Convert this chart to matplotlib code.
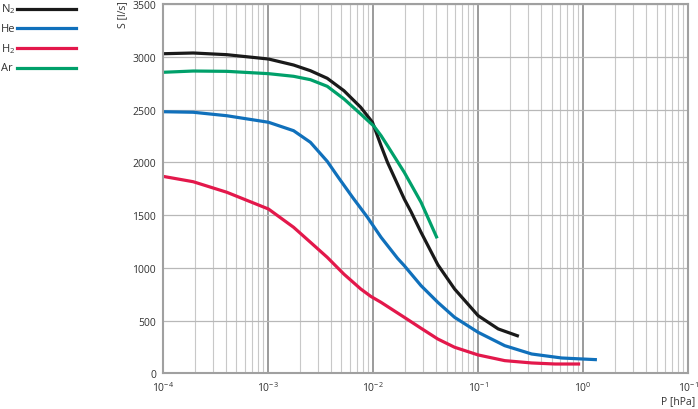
import numpy as np
import matplotlib.pyplot as plt
from matplotlib.ticker import FixedLocator, NullFormatter

plt.rcParams['font.family'] = ['Open Sans', 'DejaVu Sans']
plt.rcParams['mathtext.fontset'] = 'custom'
plt.rcParams['mathtext.rm'] = 'Open Sans'

# pressure [hPa] / pumping speed [l/s]
n2_p = [1e-4, 1.94e-4, 4.05e-4, 1.01e-3, 1.75e-3, 2.53e-3, 3.66e-3, 5.28e-3,
        7.62e-3, 9.86e-3, 0.0119, 0.0137, 0.0198, 0.0230, 0.0286, 0.0413,
        0.0596, 0.0998, 0.155, 0.244]
n2_s = [3031, 3038, 3022, 2981, 2924, 2870, 2798, 2680,
        2523, 2381, 2159, 2001, 1653, 1531, 1337, 1030,
        800, 547, 421, 351]

ar_p = [1e-4, 1.94e-4, 4.05e-4, 1.01e-3, 1.75e-3, 2.53e-3, 3.66e-3, 5.28e-3,
        7.62e-3, 0.0102, 0.0119, 0.0137, 0.0198, 0.0286, 0.0407]
ar_s = [2855, 2867, 2864, 2842, 2817, 2785, 2722, 2602,
        2459, 2343, 2254, 2159, 1906, 1622, 1280]

he_p = [1e-4, 1.94e-4, 4.05e-4, 1.01e-3, 1.75e-3, 2.53e-3, 3.66e-3, 4.73e-3,
        6.44e-3, 8.83e-3, 0.0119, 0.0171, 0.0198, 0.0286, 0.0413, 0.0596,
        0.0998, 0.179, 0.323, 0.625, 1.35]
he_s = [2481, 2476, 2443, 2381, 2301, 2191, 2010, 1850,
        1663, 1480, 1290, 1090, 1021, 831, 673, 531,
        389, 262, 183, 145, 129]

h2_p = [1e-4, 1.94e-4, 4.05e-4, 1.01e-3, 1.75e-3, 2.53e-3, 3.66e-3, 5.28e-3,
        7.62e-3, 9.49e-3, 0.0119, 0.0198, 0.0286, 0.0413, 0.0596, 0.0998,
        0.179, 0.323, 0.54, 0.935]
h2_s = [1868, 1817, 1717, 1558, 1385, 1243, 1100, 940,
        800, 730, 673, 531, 427, 325, 247, 174,
        120, 98, 88, 88]

series = [('N$_2$', n2_p, n2_s, '#1a1a1a'),
          ('He', he_p, he_s, '#1070bb'),
          ('H$_2$', h2_p, h2_s, '#e3184b'),
          ('Ar', ar_p, ar_s, '#00a06a')]

x_ticks = [1e-4, 1e-3, 1e-2, 1e-1, 1e0, 1e1]
x_labels = ['10$^{-4}$', '10$^{-3}$', '10$^{-2}$', '10$^{-1}$', '10$^{0}$', '10$^{-1}$']
y_ticks = [0, 500, 1000, 1500, 2000, 2500, 3000, 3500]

fig = plt.figure(figsize=(6.98, 4.10), dpi=100)
ax = fig.add_axes([0.2335, 0.0871, 0.7526, 0.9000])

ax.set_xscale('log')
ax.set_xlim(1e-4, 1e1)
ax.set_ylim(0, 3500)

# grid
minor = [m * 10.0 ** e for e in range(-4, 1) for m in range(2, 10)]
ax.xaxis.set_minor_locator(FixedLocator(minor))
ax.xaxis.set_minor_formatter(NullFormatter())
ax.set_xticks(x_ticks)
ax.set_xticklabels(x_labels)
ax.set_yticks(y_ticks)
ax.grid(True, which='minor', axis='x', color='#c8c8c8', lw=0.8)
ax.grid(True, which='major', axis='x', color='#8a8a8a', lw=1.2)
ax.grid(True, which='major', axis='y', color='#b8b8b8', lw=0.9)
ax.tick_params(which='both', length=0, labelsize=7.5, colors='#333333', pad=5)
for s in ax.spines.values():
    s.set_color('#a0a0a0')
    s.set_linewidth(1.5)
ax.set_axisbelow(True)

for name, p, s, c in series:
    ax.plot(p, s, color=c, lw=2.3, solid_capstyle='butt', solid_joinstyle='round')

# legend on the left, outside the plot
for i, (name, p, s, c) in enumerate(series):
    y = 1 - (9.5 + 19.8 * i) / 410
    fig.add_artist(plt.Line2D([17 / 698, 76 / 698], [y, y], color=c, lw=2.3,
                              transform=fig.transFigure))
    fig.text(1 / 698, y, name, fontsize=8, color='#333333', va='center', ha='left')

fig.text(123 / 698, 1 - 15 / 410, 'S [l/s]', rotation=90, fontsize=7.5,
         color='#333333', ha='center', va='center')
fig.text(678 / 698, 1 - 402 / 410, 'P [hPa]', fontsize=7.5,
         color='#333333', ha='center', va='center')

fig.savefig('out.png', dpi=100)
